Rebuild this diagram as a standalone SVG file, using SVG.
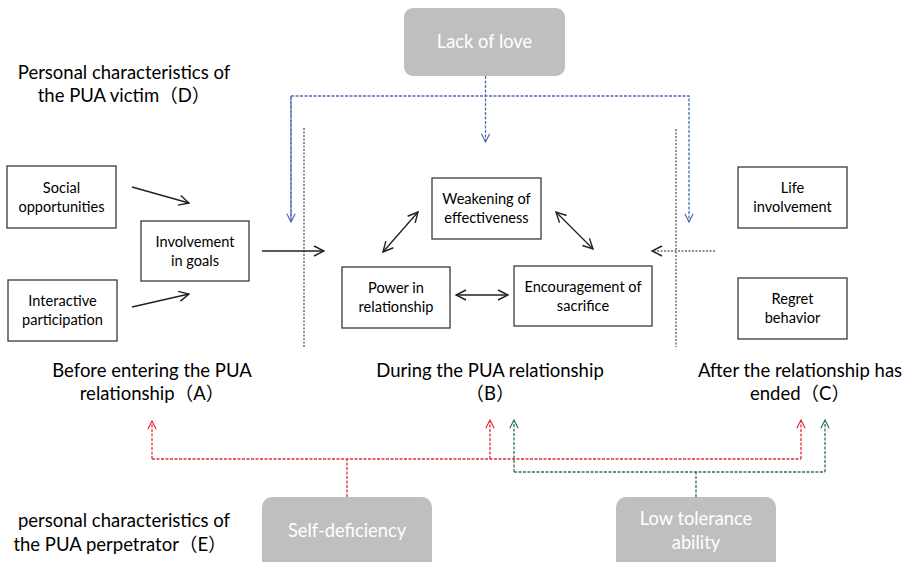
<svg xmlns="http://www.w3.org/2000/svg" width="906" height="562" viewBox="0 0 906 562">
<defs>
<style>
.t{font-family:Lato,"Noto Sans CJK SC",sans-serif;fill:#000}
.lbl{font-size:18.5px}
.bx{font-size:14.6px}
.box{fill:#fff;stroke:#3a3a3a;stroke-width:1.3}
.gbox{fill:#bfbfbf}
.gt{font-family:Lato,"Noto Sans CJK SC",sans-serif;font-size:18.3px;fill:#fff}
.blk{stroke:#222;stroke-width:1.3;fill:none}
.dot{stroke:#222;stroke-width:1;stroke-dasharray:2 1.5;fill:none}
.blue{stroke:#4a6cb3;stroke-width:1.3;stroke-dasharray:3 1.5;fill:none}
.red{stroke:#e0303a;stroke-width:1.3;stroke-dasharray:3 1.5;fill:none}
.grn{stroke:#2e716a;stroke-width:1.3;stroke-dasharray:3 1.5;fill:none}
</style>
<marker id="ak" viewBox="0 0 12 12" refX="11" refY="6" markerWidth="12" markerHeight="12" markerUnits="userSpaceOnUse" orient="auto-start-reverse"><path d="M1,1 L11,6 L1,11" fill="none" stroke="#222" stroke-width="1.4"/></marker>
<marker id="ab" viewBox="0 0 12 12" refX="11" refY="6" markerWidth="10" markerHeight="10" markerUnits="userSpaceOnUse" orient="auto"><path d="M1,1 L11,6 L1,11" fill="none" stroke="#4a6cb3" stroke-width="1.4"/></marker>
<marker id="ar" viewBox="0 0 12 12" refX="11" refY="6" markerWidth="10" markerHeight="10" markerUnits="userSpaceOnUse" orient="auto"><path d="M1,1 L11,6 L1,11" fill="none" stroke="#e0303a" stroke-width="1.4"/></marker>
<marker id="ag" viewBox="0 0 12 12" refX="11" refY="6" markerWidth="10" markerHeight="10" markerUnits="userSpaceOnUse" orient="auto"><path d="M1,1 L11,6 L1,11" fill="none" stroke="#2e716a" stroke-width="1.4"/></marker>
</defs>
<rect width="906" height="562" fill="#fff"/>

<g id="labels">
<text class="t lbl" x="124" y="79" text-anchor="middle">Personal characteristics of</text>
<text class="t lbl" x="124" y="102" text-anchor="middle">the PUA victim（D）</text>
<text class="t lbl" x="152" y="377" text-anchor="middle">Before entering the PUA</text>
<text class="t lbl" x="152" y="400" text-anchor="middle">relationship（A）</text>
<text class="t lbl" x="490" y="377" text-anchor="middle">During the PUA relationship</text>
<text class="t lbl" x="490" y="400" text-anchor="middle">（B）</text>
<text class="t lbl" x="800" y="377" text-anchor="middle">After the relationship has</text>
<text class="t lbl" x="800" y="400" text-anchor="middle">ended（C）</text>
<text class="t lbl" x="124" y="527" text-anchor="middle">personal characteristics of</text>
<text class="t lbl" x="120" y="551" text-anchor="middle">the PUA perpetrator（E）</text>
</g>

<g id="connectors">
<line class="dot" x1="304" y1="128" x2="304" y2="347"/>
<line class="dot" x1="676" y1="129" x2="676" y2="347"/>
<path class="blue" d="M485.5,76 V142" marker-end="url(#ab)"/>
<path class="blue" d="M291,222 V96 H689 V222" marker-end="url(#ab)"/>
<path class="blue" d="M291,96 V222" marker-end="url(#ab)"/>
<line class="blk" x1="132" y1="187" x2="189" y2="203" marker-end="url(#ak)"/>
<line class="blk" x1="132" y1="307" x2="189" y2="294" marker-end="url(#ak)"/>
<line class="blk" x1="262" y1="251" x2="324" y2="251" marker-end="url(#ak)"/>
<line class="blk" x1="383" y1="252" x2="418" y2="212" marker-start="url(#ak)" marker-end="url(#ak)"/>
<line class="blk" x1="556" y1="212" x2="593" y2="249" marker-start="url(#ak)" marker-end="url(#ak)"/>
<line class="blk" x1="456" y1="295" x2="508" y2="295" marker-start="url(#ak)" marker-end="url(#ak)"/>
<line class="dot" x1="715" y1="251" x2="652" y2="251" marker-end="url(#ak)"/>
<path class="red" d="M347,497 V459"/>
<path class="red" d="M152,459 H801"/>
<path class="red" d="M152,459 V421" marker-end="url(#ar)"/>
<path class="red" d="M490,459 V420" marker-end="url(#ar)"/>
<path class="red" d="M801,459 V420" marker-end="url(#ar)"/>
<path class="grn" d="M696,497 V472"/>
<path class="grn" d="M514,472 H825"/>
<path class="grn" d="M514,472 V420" marker-end="url(#ag)"/>
<path class="grn" d="M825,472 V420" marker-end="url(#ag)"/>
</g>

<g id="lack-of-love">
<rect class="gbox" x="404" y="8" width="161" height="68" rx="9"/>
<text class="gt" x="484.5" y="48" text-anchor="middle">Lack of love</text>
</g>
<g id="social-opportunities">
<rect class="box" x="7" y="166" width="109" height="62"/>
<text class="t bx" x="61.5" y="193" text-anchor="middle">Social</text>
<text class="t bx" x="61.5" y="212" text-anchor="middle">opportunities</text>
</g>
<g id="interactive-participation">
<rect class="box" x="8" y="280" width="109" height="61"/>
<text class="t bx" x="62.5" y="306" text-anchor="middle">Interactive</text>
<text class="t bx" x="62.5" y="325" text-anchor="middle">participation</text>
</g>
<g id="involvement-in-goals">
<rect class="box" x="141" y="221" width="108" height="60"/>
<text class="t bx" x="195" y="247" text-anchor="middle">Involvement</text>
<text class="t bx" x="195" y="266" text-anchor="middle">in goals</text>
</g>
<g id="weakening">
<rect class="box" x="432" y="178" width="109" height="61"/>
<text class="t bx" x="486.5" y="204" text-anchor="middle">Weakening of</text>
<text class="t bx" x="486.5" y="223" text-anchor="middle">effectiveness</text>
</g>
<g id="power">
<rect class="box" x="342" y="267" width="108" height="61"/>
<text class="t bx" x="396" y="293" text-anchor="middle">Power in</text>
<text class="t bx" x="396" y="312" text-anchor="middle">relationship</text>
</g>
<g id="encouragement">
<rect class="box" x="514" y="266" width="138" height="60"/>
<text class="t bx" x="583" y="292" text-anchor="middle">Encouragement of</text>
<text class="t bx" x="583" y="311" text-anchor="middle">sacrifice</text>
</g>
<g id="life-involvement">
<rect class="box" x="738" y="167" width="109" height="61"/>
<text class="t bx" x="792.5" y="193" text-anchor="middle">Life</text>
<text class="t bx" x="792.5" y="212" text-anchor="middle">involvement</text>
</g>
<g id="regret-behavior">
<rect class="box" x="738" y="278" width="109" height="61"/>
<text class="t bx" x="792.5" y="304" text-anchor="middle">Regret</text>
<text class="t bx" x="792.5" y="323" text-anchor="middle">behavior</text>
</g>
<g id="self-deficiency">
<rect class="gbox" x="262" y="497" width="170" height="80" rx="10"/>
<text class="gt" x="347" y="537" text-anchor="middle">Self-deficiency</text>
</g>
<g id="low-tolerance">
<rect class="gbox" x="616" y="497" width="160" height="80" rx="10"/>
<text class="gt" x="696" y="525" text-anchor="middle">Low tolerance</text>
<text class="gt" x="696" y="549" text-anchor="middle">ability</text>
</g>
</svg>
